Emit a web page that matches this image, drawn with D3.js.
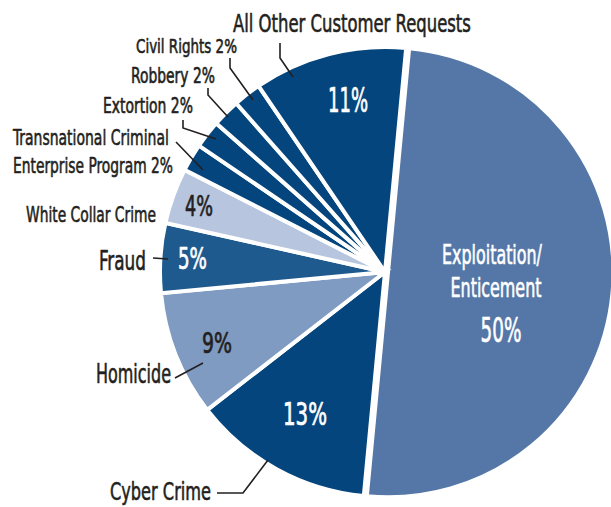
<!DOCTYPE html>
<html><head><meta charset="utf-8">
<script src="https://cdn.jsdelivr.net/npm/d3@7"></script>
<style>
html,body{margin:0;padding:0;background:#fff;}
svg{display:block;}
text{font-family:"Liberation Sans Narrow","DejaVu Sans Condensed","Liberation Sans",sans-serif;font-weight:normal;}
</style></head>
<body>
<svg id="chart" width="611" height="507"></svg>
<script>
// ---- data ----
const categories = ["Exploitation/Enticement","Cyber Crime","Homicide","Fraud","White Collar Crime",
  "Transnational Criminal Enterprise Program","Extortion","Robbery","Civil Rights","All Other Customer Requests"];
const values = [50, 13, 9, 5, 4, 2, 2, 2, 2, 11];
const colors = ["#5577a7","#03457c","#7f9bc1","#1f5a8f","#b7c5de","#03457c","#03457c","#03457c","#03457c","#03457c"];

// ---- layout (annotation placement) ----
const W = 611, H = 507;
const cx = 385, cy = 272, R = 225;
const startDeg = 5.4;
const explode = [3,0,0,0,0,0,0,0,0,0];
const ink = "#231f20";

// inside percent labels: [x, baseline, fontSize, width, fill]
const pctLayout = [
  null,
  [305, 425, 32, 44, "#fff"],
  [217, 353, 29, 30, ink],
  [192.5, 269, 30, 29, "#fff"],
  [199, 216, 29, 28, ink],
  null, null, null, null,
  [348, 112, 33, 40, "#fff"]
];
// outside name labels: lines [text, x(start), baseline, fontSize, width]
const nameLayout = [
  null,
  [["Cyber Crime", 110, 500, 25, 101]],
  [["Homicide", 96, 383, 27, 75]],
  [["Fraud", 99, 270, 27, 47]],
  [["White Collar Crime", 26, 222, 22, 130]],
  [["Transnational Criminal", 13, 145, 22, 156],["Enterprise Program 2%", 13, 173, 22, 160]],
  [["Extortion 2%", 103, 113, 20.5, 90]],
  [["Robbery 2%", 131, 83, 20.5, 84]],
  [["Civil Rights 2%", 136, 53, 19.5, 101]],
  [["All Other Customer Requests", 233, 32, 25, 238]]
];
const leaderLayout = [
  null,
  [[217,493],[243,493],[268,460]],
  [[175,378],[203,363]],
  [[153,258],[168,259]],
  null,
  [[176,142],[203,170]],
  [[183,120],[183,128],[216,139]],
  [[208,88],[208,95],[228,117]],
  [[230,58],[230,68],[253,100]],
  [[280,43],[280,58],[293,77]]
];
// big inside label of the first slice
const bigLabel = [["Exploitation/", 492, 264, 26, 100],["Enticement", 496, 297, 26, 91],["50%", 501, 342, 33, 41]];

const svg = d3.select("#chart");
const g = svg.append("g").attr("transform", `translate(${cx},${cy})`);

const a0 = startDeg * Math.PI / 180;
const pie = d3.pie().sort(null).value(d => d).startAngle(a0).endAngle(a0 + 2 * Math.PI);
const arcs = pie(values);
const arc = d3.arc().innerRadius(0).outerRadius(R);

g.selectAll("path.slice").data(arcs).join("path")
  .attr("class","slice")
  .attr("d", arc)
  .attr("fill", (d,i) => colors[i])
  .attr("stroke", "#fff")
  .attr("stroke-width", 4)
  .attr("stroke-linejoin", "miter")
  .attr("transform", (d,i) => {
    const m = (d.startAngle + d.endAngle) / 2;
    return `translate(${explode[i]*Math.sin(m)},${-explode[i]*Math.cos(m)})`;
  });

// leaders
const line = d3.line();
leaderLayout.forEach((pts) => {
  if (!pts) return;
  svg.append("path").attr("d", line(pts)).attr("fill","none")
    .attr("stroke", ink).attr("stroke-width", 1.6);
});

// text drawn at natural size, then horizontally condensed to the target width
function label(str, x, y, size, width, col, anchor, sw) {
  const t = svg.append("text").attr("x", 0).attr("y", 0)
    .attr("text-anchor", anchor).attr("font-size", size).attr("fill", col)
    .attr("stroke", col).attr("stroke-width", sw).attr("stroke-linejoin","round")
    .text(str);
  const nat = t.node().getComputedTextLength() || width;
  const sx = width / nat;
  t.attr("transform", `translate(${x},${y}) scale(${sx},1)`);
  return t;
}

// percent labels
arcs.forEach((d,i) => {
  const p = pctLayout[i];
  if (!p) return;
  label(values[i] + "%", p[0], p[1], p[2], p[3], p[4], "middle", 0.7);
});

// names
nameLayout.forEach((lines) => {
  if (!lines) return;
  lines.forEach(l => label(l[0], l[1], l[2], l[3], l[4], ink, "start", 0.6));
});

bigLabel.forEach(l => label(l[0], l[1], l[2], l[3], l[4], "#fff", "middle", 0.6));
</script>
</body></html>
